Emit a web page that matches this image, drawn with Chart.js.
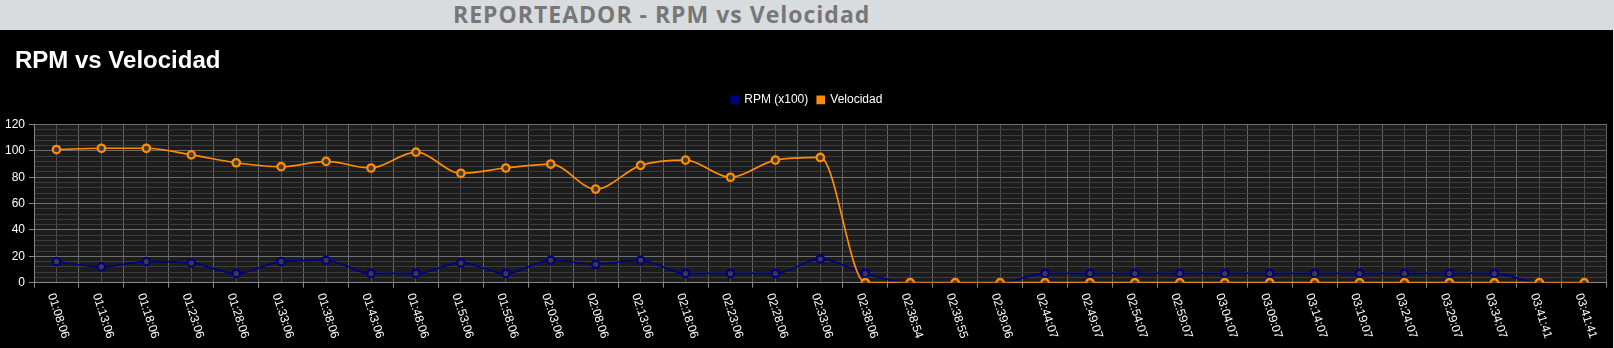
<!DOCTYPE html>
<html>
<head>
<meta charset="utf-8">
<script src="https://cdn.jsdelivr.net/npm/chart.js@4"></script>
<style>
  html, body { margin: 0; padding: 0; background: #d9dcdf; width: 1614px; height: 348px; overflow: hidden; }
  #hdr { position: absolute; left: 0; top: 0; width: 1614px; height: 30px; background: #d9dcdf;
         font-family: "Open Sans", sans-serif; font-weight: 700; font-size: 23px; line-height: 30px; color: #777;
         letter-spacing: 1px; }
  #hdr span { position: absolute; left: 453px; top: -1px; white-space: nowrap; }
  #panel { position: absolute; left: 0; top: 30px; width: 1613px; height: 318px; background: #000; }
  #ttl { position: absolute; left: 15px; top: 18px; font-family: Arial, "Liberation Sans", sans-serif;
         font-weight: 700; font-size: 24px; line-height: 24px; color: #fff; white-space: nowrap; z-index: 2; }
  #wrap { position: absolute; left: 0; top: 0; width: 1613px; height: 318px; }
</style>
</head>
<body>
<div id="hdr"><span>REPORTEADOR - RPM vs Velocidad</span></div>
<div id="panel">
  <div id="ttl">RPM vs Velocidad</div>
  <div id="wrap"><canvas id="c"></canvas></div>
</div>
<script>
const categories = ["01:08:06","01:13:06","01:18:06","01:23:06","01:28:06","01:33:06","01:38:06","01:43:06","01:48:06","01:53:06","01:58:06","02:03:06","02:08:06","02:13:06","02:18:06","02:23:06","02:28:06","02:33:06","02:38:06","02:38:54","02:38:55","02:39:06","02:44:07","02:49:07","02:54:07","02:59:07","03:04:07","03:09:07","03:14:07","03:19:07","03:24:07","03:29:07","03:34:07","03:41:41","03:41:41"];
const rpm = [16,12,16,15,7,16,17,7,7,15,7,17,14,17,7,7,7,18,7,0,0,0,7,7,7,7,7,7,7,7,7,7,7,0,0];
const velocidad = [101,102,102,97,91,88,92,87,99,83,87,90,71,89,93,80,93,95,0,0,0,0,0,0,0,0,0,0,0,0,0,0,0,0,0];
const seriesNames = ["RPM (x100)", "Velocidad"];
const seriesColors = ["#000080", "#ff8c00"];

Chart.defaults.font.family = "Arial, 'Liberation Sans', sans-serif";
Chart.defaults.font.size = 12;

const bgPlugin = {
  id: 'plotBg',
  beforeDraw(chart) {
    const {ctx, chartArea: a} = chart;
    ctx.save();
    ctx.fillStyle = '#1c1c1c';
    ctx.fillRect(a.left, a.top, a.right - a.left, a.bottom - a.top);
    ctx.restore();
  }
};

const legendFix = {
  id: 'legendFix',
  afterInit(chart) {
    const lg = chart.legend;
    if (lg) {
      const f = lg.fit.bind(lg);
      lg.fit = function () { f(); this.height = 39.7; };
      const d = lg.draw.bind(lg);
      lg.draw = function () {
        const c = this.ctx;
        c.save();
        c.translate(3.3, 0);
        d();
        c.restore();
      };
    }
  }
};

const xLabels = {
  id: 'xLabels',
  afterDraw(chart) {
    const {ctx, chartArea: a} = chart;
    const x = chart.scales.x;
    ctx.save();
    ctx.fillStyle = '#ffffff';
    ctx.font = "12px Arial, 'Liberation Sans', sans-serif";
    ctx.textAlign = 'left';
    ctx.textBaseline = 'middle';
    categories.forEach((lab, i) => {
      const px = x.getPixelForValue(i);
      ctx.save();
      ctx.translate(px - 5.5, a.bottom + 11);
      ctx.rotate(72 * Math.PI / 180);
      ctx.fillText(lab, 0, 0);
      ctx.restore();
    });
    ctx.restore();
  }
};

function ds(label, data, color, order) {
  return {
    label, data, order,
    borderColor: color,
    backgroundColor: color,
    borderWidth: 1.7,
    pointRadius: 3.7,
    pointBorderWidth: 2.3,
    pointBackgroundColor: '#3c3c3c',
    pointBorderColor: color,
    cubicInterpolationMode: 'monotone',
    fill: false
  };
}

new Chart(document.getElementById('c'), {
  type: 'line',
  data: {
    labels: categories,
    datasets: [
      ds(seriesNames[0], rpm, seriesColors[0], 1),
      ds(seriesNames[1], velocidad, seriesColors[1], 0)
    ]
  },
  options: {
    responsive: true,
    maintainAspectRatio: false,
    animation: false,
    events: [],
    layout: { padding: { top: 54.8, right: 6, bottom: 0, left: 0 } },
    plugins: {
      title: { display: false },
      tooltip: { enabled: false },
      legend: {
        display: true,
        position: 'top',
        labels: {
          color: '#ffffff',
          boxWidth: 7,
          boxHeight: 7,
          padding: 9,
          font: { size: 12 },
          sort: (a, b) => a.datasetIndex - b.datasetIndex
        }
      }
    },
    scales: {
      x: {
        type: 'category',
        offset: true,
        grid: { offset: true, color: '#666', tickLength: 5, tickColor: '#888', drawTicks: true },
        border: { display: true, color: '#888' },
        ticks: { display: false },
        afterFit: s => { s.height = 65.3; }
      },
      x2: {
        type: 'category',
        labels: categories,
        position: 'bottom',
        offset: true,
        grid: { offset: false, color: '#4e4e4e', drawTicks: false },
        border: { display: false },
        ticks: { display: false },
        afterFit: s => { s.height = 0; }
      },
      y: {
        min: 0,
        max: 120,
        grid: {
          color: c => (c.tick && c.tick.value % 20 === 0) ? '#6e6e6e' : '#3c3c3c',
          tickColor: c => (c.tick && c.tick.value % 20 === 0) ? '#888' : 'rgba(0,0,0,0)',
          tickLength: 5
        },
        border: { display: true, color: '#888' },
        ticks: {
          stepSize: 4,
          autoSkip: false,
          color: '#ffffff',
          padding: 4,
          font: { size: 12 },
          callback: v => (v % 20 === 0 ? String(v) : '')
        },
        afterFit: s => { s.width = 34; }
      }
    }
  },
  plugins: [bgPlugin, legendFix, xLabels]
});
</script>
</body>
</html>
